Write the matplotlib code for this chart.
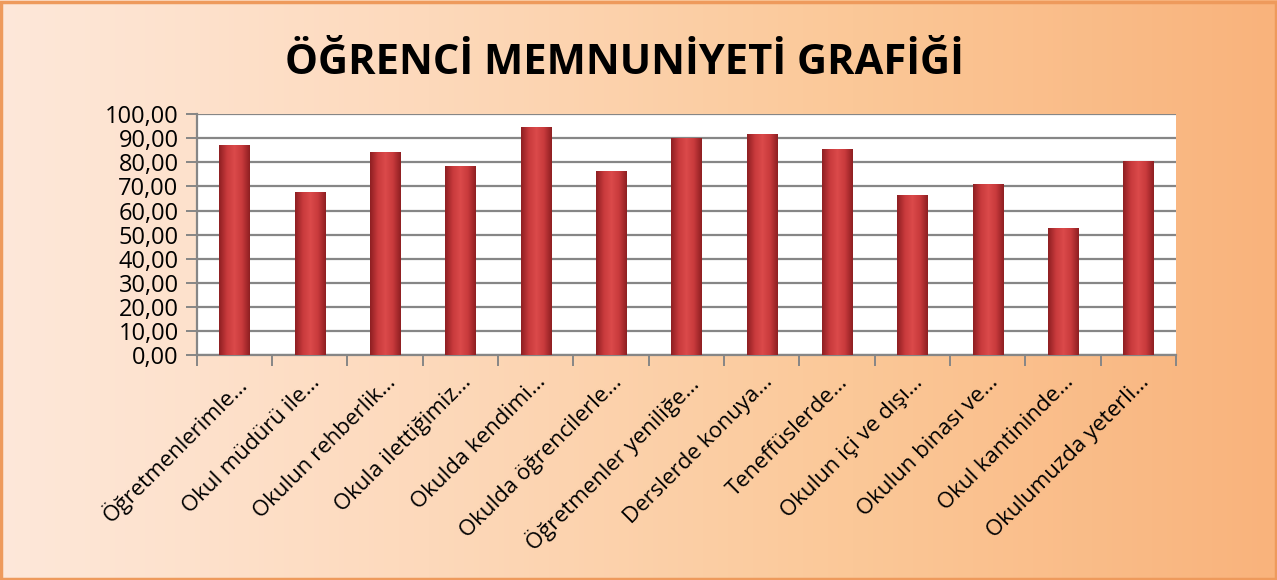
import numpy as np
import matplotlib.pyplot as plt
from matplotlib.colors import LinearSegmentedColormap
from matplotlib.ticker import FuncFormatter, MultipleLocator
from matplotlib.patches import Rectangle

categories = ['Öğretmenlerimle…', 'Okul müdürü ile…', 'Okulun rehberlik…',
              'Okula ilettiğimiz…', 'Okulda kendimi…', 'Okulda öğrencilerle…',
              'Öğretmenler yeniliğe…', 'Derslerde konuya…', 'Teneffüslerde…',
              'Okulun içi ve dışı…', 'Okulun binası ve…', 'Okul kantininde…',
              'Okulumuzda yeterli…']
values = [87.4, 67.7, 84.2, 78.3, 94.5, 76.6, 90.0, 91.6, 85.4, 66.3, 70.9, 52.6, 80.5]
title = 'ÖĞRENCİ MEMNUNİYETİ GRAFİĞİ'

plt.rcParams['font.family'] = ['Open Sans', 'DejaVu Sans']

fig = plt.figure(figsize=(12.77, 5.80), dpi=100)

# background gradient for the whole figure
bg = fig.add_axes([0, 0, 1, 1], zorder=-10)
bg_cmap = LinearSegmentedColormap.from_list('bg', ['#fde8da', '#fdd9bb', '#fbc898', '#f9b37c'])
bg.imshow(np.linspace(0, 1, 256).reshape(1, -1), aspect='auto', cmap=bg_cmap,
          extent=[0, 1, 0, 1])
bg.add_patch(Rectangle((0.001, 0.002), 0.998, 0.995, fill=False, edgecolor='#ee9a5c',
                       linewidth=2.5, transform=bg.transAxes))
bg.set_axis_off()

fig.text(0.489, 0.89, title, ha='center', va='center', fontsize=30,
         fontweight='bold', color='black')

ax = fig.add_axes([0.154, 0.388, 0.767, 0.415])
ax.set_facecolor('white')
x = np.arange(len(categories))
bars = ax.bar(x, values, width=0.4, color='#c93a3c', edgecolor='none', zorder=3)

# cylinder-like shading on each bar
bar_cmap = LinearSegmentedColormap.from_list('bar', ['#8e1f22', '#c83a3c', '#db4a4a', '#c83a3c', '#8e1f22'])
grad = np.linspace(0, 1, 64).reshape(1, -1)
for b in bars:
    im = ax.imshow(grad, aspect='auto', cmap=bar_cmap, zorder=4,
                   extent=[b.get_x(), b.get_x() + b.get_width(), 0, b.get_height()])
    im.set_clip_path(b)

ax.set_xlim(-0.5, len(categories) - 0.5)
ax.set_ylim(0, 100)
ax.yaxis.set_major_locator(MultipleLocator(10))
ax.yaxis.set_major_formatter(FuncFormatter(lambda v, p: f'{v:.2f}'.replace('.', ',')))
ax.grid(axis='y', color='#868686', linewidth=1.6, zorder=1)

ax.set_xticks(np.arange(len(categories) + 1) - 0.5, minor=True)
ax.set_xticks(x)
ax.set_xticklabels(categories, rotation=45, ha='right', rotation_mode='anchor', fontsize=16)
ax.tick_params(axis='x', which='major', length=0, pad=12)
ax.tick_params(axis='x', which='minor', length=8, width=1.4, color='#868686')
ax.tick_params(axis='y', length=8, width=1.4, color='#868686', labelsize=17, pad=5)

for side in ['top', 'right']:
    ax.spines[side].set_visible(False)
ax.spines['left'].set_color('#868686')
ax.spines['left'].set_linewidth(1.6)
ax.spines['bottom'].set_color('#868686')
ax.spines['bottom'].set_linewidth(1.6)

fig.savefig('out.png', dpi=100)
